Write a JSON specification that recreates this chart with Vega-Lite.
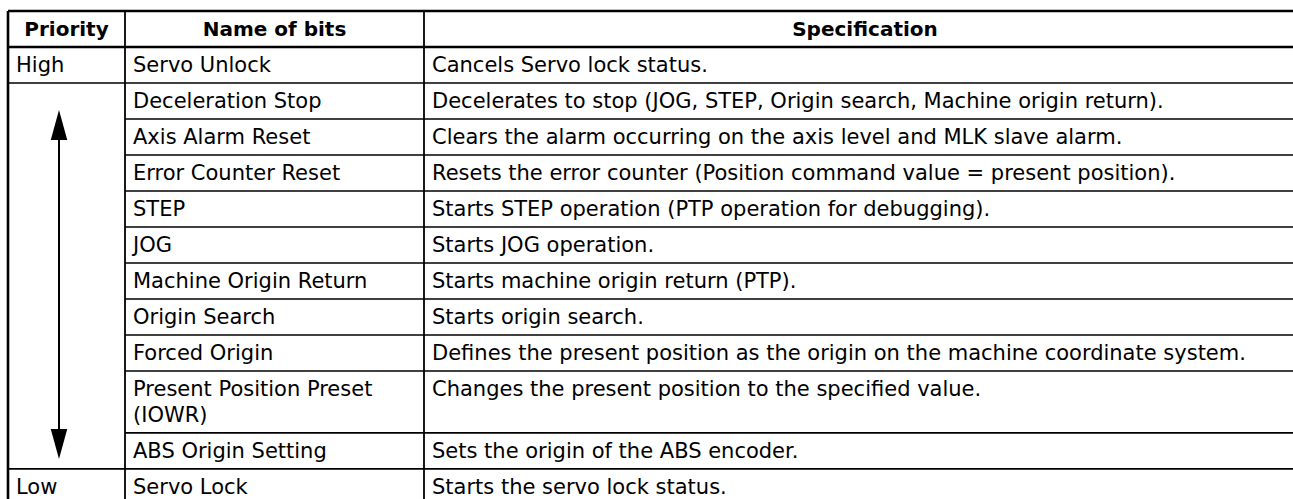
{
  "$schema": "https://vega.github.io/schema/vega-lite/v6.json",
  "width": 1293,
  "height": 499,
  "autosize": {"type": "fit", "contains": "padding"},
  "padding": 0,
  "background": "white",
  "config": {"view": {"stroke": null}, "axis": {"disable": true}},
  "datasets": {
    "hlines": [
      {"u": 0, "x0": 8, "x1": 1306, "kind": "thick"},
      {"u": 1, "x0": 8, "x1": 1306, "kind": "thick"},
      {"u": 2, "x0": 8, "x1": 1306, "kind": "thin"},
      {"u": 3, "x0": 125, "x1": 1306, "kind": "thin"},
      {"u": 4, "x0": 125, "x1": 1306, "kind": "thin"},
      {"u": 5, "x0": 125, "x1": 1306, "kind": "thin"},
      {"u": 6, "x0": 125, "x1": 1306, "kind": "thin"},
      {"u": 7, "x0": 125, "x1": 1306, "kind": "thin"},
      {"u": 8, "x0": 125, "x1": 1306, "kind": "thin"},
      {"u": 9, "x0": 125, "x1": 1306, "kind": "thin"},
      {"u": 10, "x0": 125, "x1": 1306, "kind": "thin"},
      {"u": 11.72, "x0": 125, "x1": 1306, "kind": "thin"},
      {"u": 12.72, "x0": 8, "x1": 1306, "kind": "thin"},
      {"u": 13.72, "x0": 8, "x1": 1306, "kind": "thick"}
    ],
    "vlines": [
      {"x": 8, "u0": 0, "u1": 13.72, "kind": "thick"},
      {"x": 125, "u0": 0, "u1": 13.72, "kind": "thin"},
      {"x": 424, "u0": 0, "u1": 13.72, "kind": "thin"},
      {"x": 1306, "u0": 0, "u1": 13.72, "kind": "thick"}
    ],
    "header": [
      {"label": "Priority", "mid": 66.5, "u": 0.5},
      {"label": "Name of bits", "mid": 274.5, "u": 0.5},
      {"label": "Specification", "mid": 865, "u": 0.5}
    ],
    "cells": [
      {"x": 8, "u": 1.5, "text": "High"},
      {"x": 125, "u": 1.5, "text": "Servo Unlock"},
      {"x": 424, "u": 1.5, "text": "Cancels Servo lock status."},
      {"x": 125, "u": 2.5, "text": "Deceleration Stop"},
      {"x": 424, "u": 2.5, "text": "Decelerates to stop (JOG, STEP, Origin search, Machine origin return)."},
      {"x": 125, "u": 3.5, "text": "Axis Alarm Reset"},
      {"x": 424, "u": 3.5, "text": "Clears the alarm occurring on the axis level and MLK slave alarm."},
      {"x": 125, "u": 4.5, "text": "Error Counter Reset"},
      {"x": 424, "u": 4.5, "text": "Resets the error counter (Position command value = present position)."},
      {"x": 125, "u": 5.5, "text": "STEP"},
      {"x": 424, "u": 5.5, "text": "Starts STEP operation (PTP operation for debugging)."},
      {"x": 125, "u": 6.5, "text": "JOG"},
      {"x": 424, "u": 6.5, "text": "Starts JOG operation."},
      {"x": 125, "u": 7.5, "text": "Machine Origin Return"},
      {"x": 424, "u": 7.5, "text": "Starts machine origin return (PTP)."},
      {"x": 125, "u": 8.5, "text": "Origin Search"},
      {"x": 424, "u": 8.5, "text": "Starts origin search."},
      {"x": 125, "u": 9.5, "text": "Forced Origin"},
      {"x": 424, "u": 9.5, "text": "Defines the present position as the origin on the machine coordinate system."},
      {"x": 125, "u": 10.5, "text": ["Present Position Preset", "(IOWR)"]},
      {"x": 424, "u": 10.5, "text": "Changes the present position to the specified value."},
      {"x": 125, "u": 12.22, "text": "ABS Origin Setting"},
      {"x": 424, "u": 12.22, "text": "Sets the origin of the ABS encoder."},
      {"x": 8, "u": 13.22, "text": "Low"},
      {"x": 125, "u": 13.22, "text": "Servo Lock"},
      {"x": 424, "u": 13.22, "text": "Starts the servo lock status."}
    ],
    "shaft": [{"x": 59, "u0": 3.58, "u1": 11.64}],
    "headUp": [{"x": 59, "u": 3.167}],
    "headDown": [{"x": 59, "u": 12.03}]
  },
  "layer": [
    {
      "data": {"name": "hlines"},
      "transform": [{"filter": "datum.kind === 'thin'"}],
      "mark": {"type": "rule", "color": "black", "strokeWidth": 1.6, "clip": true},
      "encoding": {
        "x": {"field": "x0", "type": "quantitative", "scale": {"domain": [0, 1293], "nice": false, "zero": false}},
        "x2": {"field": "x1"},
        "y": {"field": "u", "type": "quantitative", "scale": {"domain": [-0.30556, 13.55556], "reverse": true, "nice": false, "zero": false}}
      }
    },
    {
      "data": {"name": "hlines"},
      "transform": [{"filter": "datum.kind === 'thick'"}],
      "mark": {"type": "rule", "color": "black", "strokeWidth": 2.6, "clip": true},
      "encoding": {
        "x": {"field": "x0", "type": "quantitative", "scale": {"domain": [0, 1293], "nice": false, "zero": false}},
        "x2": {"field": "x1"},
        "y": {"field": "u", "type": "quantitative", "scale": {"domain": [-0.30556, 13.55556], "reverse": true, "nice": false, "zero": false}}
      }
    },
    {
      "data": {"name": "vlines"},
      "transform": [{"filter": "datum.kind === 'thin'"}],
      "mark": {"type": "rule", "color": "black", "strokeWidth": 1.8, "clip": true},
      "encoding": {
        "x": {"field": "x", "type": "quantitative", "scale": {"domain": [0, 1293], "nice": false, "zero": false}},
        "y": {"field": "u0", "type": "quantitative", "scale": {"domain": [-0.30556, 13.55556], "reverse": true, "nice": false, "zero": false}},
        "y2": {"field": "u1"}
      }
    },
    {
      "data": {"name": "vlines"},
      "transform": [{"filter": "datum.kind === 'thick'"}],
      "mark": {"type": "rule", "color": "black", "strokeWidth": 2.6, "clip": true},
      "encoding": {
        "x": {"field": "x", "type": "quantitative", "scale": {"domain": [0, 1293], "nice": false, "zero": false}},
        "y": {"field": "u0", "type": "quantitative", "scale": {"domain": [-0.30556, 13.55556], "reverse": true, "nice": false, "zero": false}},
        "y2": {"field": "u1"}
      }
    },
    {
      "data": {"name": "header"},
      "mark": {"type": "text", "font": "DejaVu Sans", "fontWeight": "bold", "fontSize": 20, "align": "center", "baseline": "middle", "color": "black", "dy": 1},
      "encoding": {
        "x": {"field": "mid", "type": "quantitative", "scale": {"domain": [0, 1293], "nice": false, "zero": false}},
        "y": {"field": "u", "type": "quantitative", "scale": {"domain": [-0.30556, 13.55556], "reverse": true, "nice": false, "zero": false}},
        "text": {"field": "label"}
      }
    },
    {
      "data": {"name": "cells"},
      "mark": {"type": "text", "font": "DejaVu Sans", "fontSize": 21, "align": "left", "baseline": "middle", "color": "black", "dx": 8, "dy": 1, "lineHeight": 26, "clip": true},
      "encoding": {
        "x": {"field": "x", "type": "quantitative", "scale": {"domain": [0, 1293], "nice": false, "zero": false}},
        "y": {"field": "u", "type": "quantitative", "scale": {"domain": [-0.30556, 13.55556], "reverse": true, "nice": false, "zero": false}},
        "text": {"field": "text"}
      }
    },
    {
      "data": {"name": "shaft"},
      "mark": {"type": "rule", "color": "black", "strokeWidth": 2},
      "encoding": {
        "x": {"field": "x", "type": "quantitative", "scale": {"domain": [0, 1293], "nice": false, "zero": false}},
        "y": {"field": "u0", "type": "quantitative", "scale": {"domain": [-0.30556, 13.55556], "reverse": true, "nice": false, "zero": false}},
        "y2": {"field": "u1"}
      }
    },
    {
      "data": {"name": "headUp"},
      "mark": {"type": "point", "shape": "M0,-1L0.55,1L-0.55,1Z", "filled": true, "color": "black", "opacity": 1, "size": 900, "strokeWidth": 0},
      "encoding": {
        "x": {"field": "x", "type": "quantitative", "scale": {"domain": [0, 1293], "nice": false, "zero": false}},
        "y": {"field": "u", "type": "quantitative", "scale": {"domain": [-0.30556, 13.55556], "reverse": true, "nice": false, "zero": false}}
      }
    },
    {
      "data": {"name": "headDown"},
      "mark": {"type": "point", "shape": "M0,1L0.55,-1L-0.55,-1Z", "filled": true, "color": "black", "opacity": 1, "size": 900, "strokeWidth": 0},
      "encoding": {
        "x": {"field": "x", "type": "quantitative", "scale": {"domain": [0, 1293], "nice": false, "zero": false}},
        "y": {"field": "u", "type": "quantitative", "scale": {"domain": [-0.30556, 13.55556], "reverse": true, "nice": false, "zero": false}}
      }
    }
  ]
}
